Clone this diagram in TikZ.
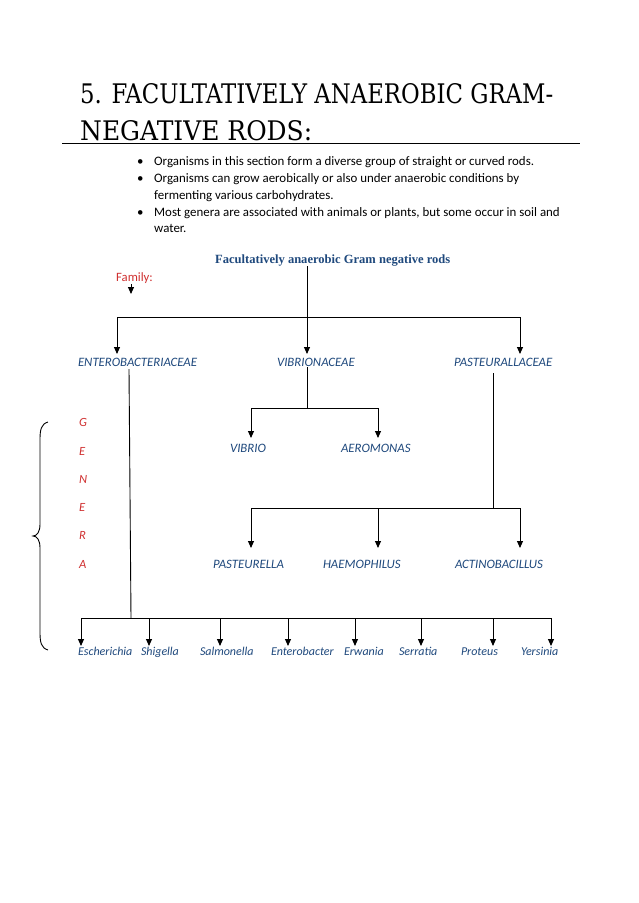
\documentclass[tikz,border=0pt]{standalone}
\usepackage{fontspec}
\setmainfont{Carlito}
\newfontfamily\titlefont{DejaVu Serif}
\newfontfamily\headfont{Liberation Serif}
\usetikzlibrary{arrows.meta}
\definecolor{lblue}{HTML}{1F497D}
\definecolor{lred}{HTML}{D03030}
\tikzset{
  lbl/.style={anchor=base west, inner sep=0pt, outer sep=0pt, font=\fontsize{12.8}{14}\selectfont\itshape, text=lblue},
  lbls/.style={anchor=base west, inner sep=0pt, outer sep=0pt, font=\fontsize{12}{14}\selectfont\itshape, text=lblue},
  gen/.style={anchor=base west, inner sep=0pt, font=\fontsize{12.5}{14}\selectfont\itshape, text=lred},
  btxt/.style={anchor=base west, inner sep=0pt, font=\fontsize{12.9}{14}\selectfont},
  arr/.style={-{Triangle[length=7pt,width=6pt]}, line width=0.9pt},
  ln/.style={line width=0.9pt},
}
\begin{document}
\begin{tikzpicture}[x=1pt,y=-1pt]
\useasboundingbox[fill=white] (0,0) rectangle (638,903);
% title
\node[anchor=base west, inner sep=0pt] (t1) at (80,103) {\titlefont\resizebox{473pt}{20pt}{5. FACULTATIVELY ANAEROBIC GRAM-}};
\node[anchor=base west, inner sep=0pt] (t2) at (80,140) {\titlefont\resizebox{232pt}{20pt}{NEGATIVE RODS:}};
\coordinate (r1) at (62,143.5);
\coordinate (r2) at (580,143.5);
\draw[ln] (r1) -- (r2);
% bullets
\foreach \yy in {165,182,216} \node[btxt] at (137,\yy) {•};
\node[btxt] (b1) at (154,165) {Organisms in this section form a diverse group of straight or curved rods.};
\node[btxt] (b2) at (154,182) {Organisms can grow aerobically or also under anaerobic conditions by};
\node[btxt] (b3) at (154,199) {fermenting various carbohydrates.};
\node[btxt] (b4) at (154,216) {Most genera are associated with animals or plants, but some occur in soil and};
\node[btxt] (b5) at (154,232) {water.};
% heading
\node[anchor=base west, inner sep=0pt, text=lblue] (head) at (215,263) {\headfont\bfseries\resizebox{235pt}{!}{Facultatively anaerobic Gram negative rods}};
\node[anchor=base west, inner sep=0pt, text=lred, font=\fontsize{12.7}{14}\selectfont] (fam) at (116,281) {Family:};
\coordinate (fa1) at (131,284);
\coordinate (fa2) at (131,294);
\draw[arr] (fa1) -- (fa2);
% level 1
\coordinate (h0) at (307,266);
\coordinate (hb) at (307,317);
\coordinate (hl) at (117,317);
\coordinate (hr) at (520,317);
\draw[ln] (h0) -- (hb);
\draw[ln] (hl) -- (hr);
\coordinate (te) at (117,354);
\coordinate (tv) at (307,354);
\coordinate (tp) at (520,354);
\draw[arr] (hl) -- (te);
\draw[arr] (hb) -- (tv);
\draw[arr] (hr) -- (tp);
\node[lbl] (ent) at (78,366) {ENTEROBACTERIACEAE};
\node[lbl] (vib) at (277,366) {VIBRIONACEAE};
\node[lbl] (pas) at (454,366) {PASTEURALLACEAE};
% vibrionaceae
\coordinate (v0) at (307,367);
\coordinate (vb) at (307,408);
\coordinate (vl) at (251,408);
\coordinate (vr) at (378,408);
\draw[ln] (v0) -- (vb);
\draw[ln] (vl) -- (vr);
\coordinate (tvib) at (251,438);
\coordinate (taer) at (378,438);
\draw[arr] (vl) -- (tvib);
\draw[arr] (vr) -- (taer);
\node[lbl] (vibrio) at (230,452) {VIBRIO};
\node[lbl] (aero) at (341,452) {AEROMONAS};
% pasteurallaceae
\coordinate (p0) at (493,373);
\coordinate (pb) at (493,508);
\coordinate (pl) at (251,508);
\coordinate (pr) at (520,508);
\draw[ln] (p0) -- (pb);
\draw[ln] (pl) -- (pr);
\coordinate (ppas) at (251,548);
\coordinate (phae) at (378,548);
\coordinate (pact) at (520,548);
\coordinate (pm) at (378,508);
\draw[arr] (pl) -- (ppas);
\draw[arr] (pm) -- (phae);
\draw[arr] (pr) -- (pact);
\node[lbl] (pasteurella) at (213,568) {PASTEURELLA};
\node[lbl] (haem) at (323,568) {HAEMOPHILUS};
\node[lbl] (actino) at (455,568) {ACTINOBACILLUS};
% GENERA
\node[gen] (g1) at (79,426) {G};
\node[gen] (g2) at (79,455) {E};
\node[gen] (g3) at (79,483) {N};
\node[gen] (g4) at (79,511) {E};
\node[gen] (g5) at (79,539) {R};
\node[gen] (g6) at (79,568) {A};
\draw[ln] (48,422) .. controls (41,424) and (40,430) .. (40,440) -- (40,524)
  .. controls (40,532) and (37,536) .. (33,536)
  .. controls (37,536) and (40,540) .. (40,548) -- (40,632)
  .. controls (40,642) and (41,648) .. (48,650);
% enterobacteriaceae
\coordinate (e0) at (129,369);
\coordinate (eb) at (131,618);
\coordinate (el) at (81,618);
\coordinate (er) at (551,618);
\draw[ln] (e0) -- (eb);
\draw[ln] (el) -- (er);
\foreach \nm/\xx in {esc/81,shi/149,sal/220,ent2/288,erw/355,ser/421,pro/493,yer/551}{
  \coordinate (s\nm) at (\xx,618);
  \coordinate (e\nm) at (\xx,646);
  \draw[arr] (s\nm) -- (e\nm);
}
\node[lbls] (escherichia) at (78,655) {Escherichia};
\node[lbls] (shigella) at (141,655) {Shigella};
\node[lbls] (salmonella) at (200,655) {Salmonella};
\node[lbls] (enterobacter) at (271,655) {Enterobacter};
\node[lbls] (erwania) at (344,655) {Erwania};
\node[lbls] (serratia) at (399,655) {Serratia};
\node[lbls] (proteus) at (461,655) {Proteus};
\node[lbls] (yersinia) at (521,655) {Yersinia};
\end{tikzpicture}
\end{document}
